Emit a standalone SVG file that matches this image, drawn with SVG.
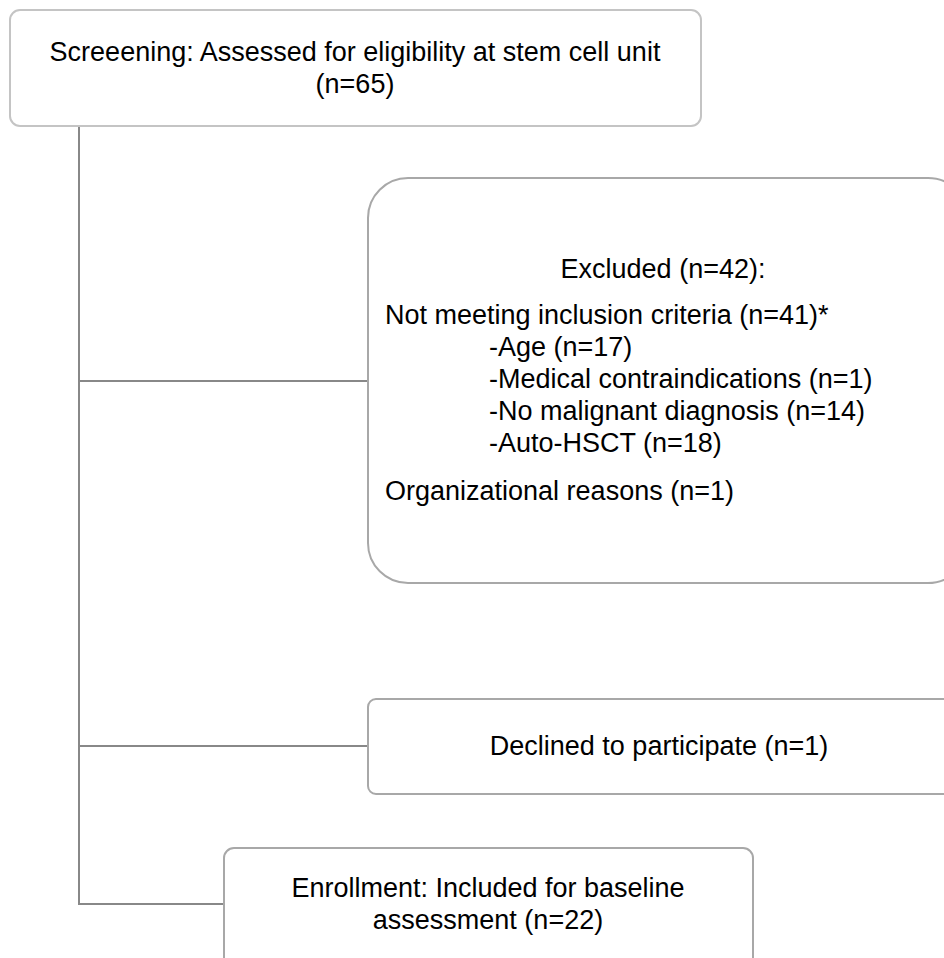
<svg xmlns="http://www.w3.org/2000/svg" width="944" height="958" viewBox="0 0 944 958">
<style>
.box{fill:#fff;stroke:#a8a8a8;stroke-width:2}
.ln{fill:none;stroke:#888;stroke-width:2}
text{font-family:"Liberation Sans",Arial,sans-serif;font-size:27px;fill:#000}
.c{text-anchor:middle}
</style>
<rect width="944" height="958" fill="#fff"/>
<g id="connectors">
<polyline class="ln" points="79,126 79,904 224,904"/>
<line class="ln" x1="79" y1="381" x2="368" y2="381"/>
<line class="ln" x1="79" y1="746" x2="368" y2="746"/>
</g>
<g id="screening">
<rect class="box" x="10" y="10" width="691" height="116" rx="10" style="stroke:#c4c4c4"/>
<text class="c" x="355" y="61">Screeening: Assessed for eligibility at stem cell unit</text>
<text class="c" x="355" y="93">(n=65)</text>
</g>
<g id="excluded">
<rect class="box" x="368" y="178" width="600" height="405" rx="40"/>
<text class="c" x="663" y="278">Excluded (n=42):</text>
<text x="385" y="324">Not meeting inclusion criteria (n=41)*</text>
<text x="489" y="356">-Age (n=17)</text>
<text x="489" y="388">-Medical contraindications (n=1)</text>
<text x="489" y="420">-No malignant diagnosis (n=14)</text>
<text x="489" y="452">-Auto-HSCT (n=18)</text>
<text x="385" y="500">Organizational reasons (n=1)</text>
</g>
<g id="declined">
<rect class="box" x="368" y="699" width="600" height="95" rx="8"/>
<text class="c" x="659" y="755">Declined to participate (n=1)</text>
</g>
<g id="enrollment">
<rect class="box" x="224" y="848" width="529" height="140" rx="10"/>
<text class="c" x="488" y="897">Enrollment: Included for baseline</text>
<text class="c" x="488" y="929">assessment (n=22)</text>
</g>
</svg>
